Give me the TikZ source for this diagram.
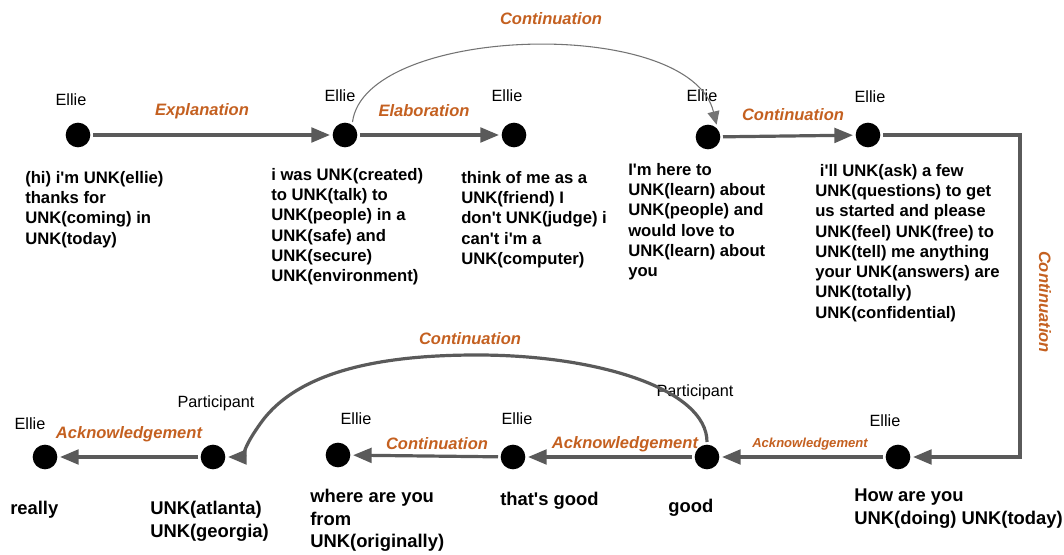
\documentclass[tikz,border=0pt]{standalone}
\usepackage{fontspec}
\setmainfont{Liberation Sans}[Ligatures=TeXOff]
\usetikzlibrary{arrows.meta}
\definecolor{relcolor}{RGB}{196,96,32}
\definecolor{linkgray}{RGB}{90,90,90}

\begin{document}
\begin{tikzpicture} [x=0.75pt,y=-0.75pt,
  dot/.style={circle,fill=black,inner sep=0pt,minimum size=18.5pt,outer sep=2pt},
  who/.style={font=\fontsize{12.2}{14}\selectfont},
  utt/.style={anchor=north west,align=left,inner sep=0pt,font=\bfseries\fontsize{12.5}{15.2}\selectfont},
  bigutt/.style={utt,font=\bfseries\fontsize{13.8}{16.9}\selectfont},
  rel/.style={text=relcolor,font=\bfseries\itshape\fontsize{12.4}{14}\selectfont},
  link/.style={draw=linkgray,line width=2.4pt,-{Triangle[length=14pt,width=11pt]}},
  thinlink/.style={draw=linkgray!85,line width=0.8pt,-{Triangle[length=10pt,width=9pt]}}]

%\draw [step=50, dotted] (0,0) grid (1064,555);
\useasboundingbox (0,0) rectangle (1064,555);

\node [dot] (a) at (78,135) {};
\node [dot] (b) at (345,135) {};
\node [dot] (c) at (514,135) {};
\node [dot] (d) at (708,137) {};
\node [dot] (e) at (868,135) {};
\node [dot] (f) at (898,457) {};
\node [dot] (g) at (707,457) {};
\node [dot] (h) at (513,457) {};
\node [dot] (i) at (338,455) {};
\node [dot] (j) at (213,457) {};
\node [dot] (k) at (45,457) {};

\node [who] (a-who) at (71,100) {Ellie};
\node [who] (b-who) at (340,96) {Ellie};
\node [who] (c-who) at (507,96) {Ellie};
\node [who] (d-who) at (702,96) {Ellie};
\node [who] (e-who) at (870,97) {Ellie};
\node [who] (f-who) at (885,421) {Ellie};
\node [who] (g-who) at (695,392) {Participant};
\node [who] (h-who) at (517,419) {Ellie};
\node [who] (i-who) at (356,419) {Ellie};
\node [who] (j-who) at (216,403) {Participant};
\node [who] (k-who) at (30,424) {Ellie};

\node [utt] (a-txt) at (25,171) {(hi) i'm UNK(ellie)\\thanks for\\UNK(coming) in\\UNK(today)};
\node [utt] (b-txt) at (271,168) {i was UNK(created)\\to UNK(talk) to\\UNK(people) in a\\UNK(safe) and\\UNK(secure)\\UNK(environment)};
\node [utt] (c-txt) at (461,171) {think of me as a\\UNK(friend) I\\don't UNK(judge) i\\can't i'm a\\UNK(computer)};
\node [utt] (d-txt) at (628,163) {I'm here to\\UNK(learn) about\\UNK(people) and\\would love to\\UNK(learn) about\\you};
\node [utt] (e-txt) at (815,164) {\ i'll UNK(ask) a few\\UNK(questions) to get\\us started and please\\UNK(feel) UNK(free) to\\UNK(tell) me anything\\your UNK(answers) are\\UNK(totally)\\UNK(confidential)};
\node [bigutt] (f-txt) at (854,489) {How are you\\UNK(doing) UNK(today)};
\node [bigutt] (g-txt) at (668,499) {good};
\node [bigutt] (h-txt) at (500,492) {that's good};
\node [bigutt] (i-txt) at (310,489) {where are you\\from\\UNK(originally)};
\node [bigutt] (j-txt) at (150,501) {UNK(atlanta)\\UNK(georgia)};
\node [bigutt] (k-txt) at (10,501) {really};

\coordinate (turn) at (1020,457);

\draw [link] (a) -- (b);
\draw [link] (b) -- (c);
\draw [thinlink] (b.60) .. controls (365,25) and (690,15) .. (d.55);
\draw [link] (d) -- (e);
\draw [link] (e) -| (turn) -- (f);
\draw [link] (f) -- (g);
\draw [link] (g) -- (h);
\draw [link] (h) -- (i);
\draw [link] (g.north) .. controls (707,390) and (600,355) .. (477,355)
  .. controls (390,355) and (303,368) .. (263,420)
  .. controls (248,440) and (240,457) .. (j.east);
\draw [link] (j) -- (k);

\node [rel] (ab-rel) at (202,111) {Explanation};
\node [rel] (bc-rel) at (424,111) {Elaboration};
\node [rel] (bd-rel) at (551,19) {Continuation};
\node [rel] (de-rel) at (793,115) {Continuation};
\node [rel,rotate=-90] (ef-rel) at (1045,302) {Continuation};
\node [rel,font=\bfseries\itshape\fontsize{9.8}{12}\selectfont] (fg-rel) at (810,444) {Acknowledgement};
\node [rel] (gh-rel) at (625,444) {Acknowledgement};
\node [rel] (hi-rel) at (437,444) {Continuation};
\node [rel] (gj-rel) at (470,339) {Continuation};
\node [rel] (jk-rel) at (129,434) {Acknowledgement};

\end{tikzpicture}
\end{document}
